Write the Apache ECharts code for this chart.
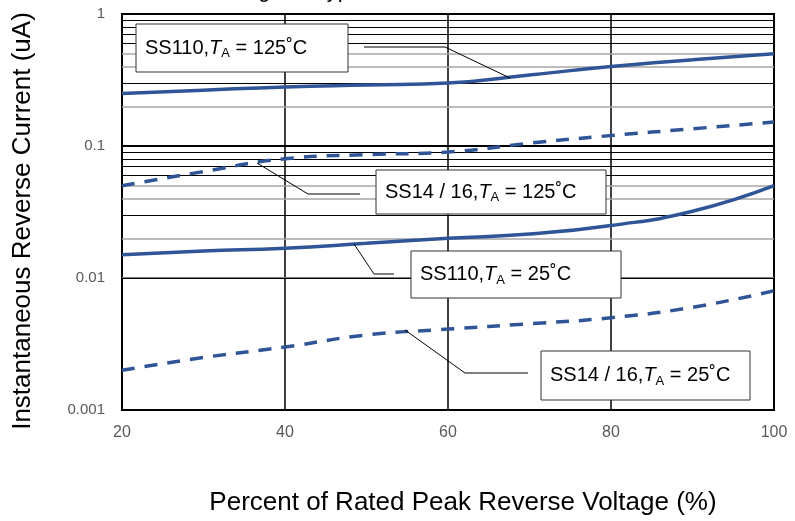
<!DOCTYPE html>
<html>
<head>
<meta charset="utf-8">
<script src="https://cdn.jsdelivr.net/npm/echarts@6/dist/echarts.min.js"></script>
<style>html,body{margin:0;padding:0;background:#fff}#c{width:795px;height:521px}</style>
</head>
<body>
<div id="c"></div>
<script>
const xValues = [20, 30, 40, 50, 60, 70, 80, 90, 100];
const ss110_125 = [0.25, 0.265, 0.28, 0.29, 0.30, 0.345, 0.40, 0.45, 0.50];
const ss14_125 = [0.05, 0.064, 0.08, 0.086, 0.09, 0.105, 0.12, 0.135, 0.152];
const ss110_25 = [0.015, 0.016, 0.0168, 0.0183, 0.02, 0.0215, 0.025, 0.032, 0.05];
const ss14_25 = [0.002, 0.0025, 0.003, 0.0037, 0.0041, 0.0045, 0.005, 0.006, 0.008];
const xTicks = [20, 40, 60, 80, 100];
const yTicks = [0.001, 0.01, 0.1, 1];
const minorMantissas = [2, 3, 4, 5, 6, 7, 8, 9];
const grayMantissas = [2, 4, 5];

const FONT = 'Liberation Sans, Arial, sans-serif';
const BLUE = '#2F5597';

function pairs(ys) { return xValues.map((x, i) => [x, ys[i]]); }

const minorLines = [];
[0.001, 0.01, 0.1].forEach(d => {
  minorMantissas.forEach(m => {
    const gray = grayMantissas.indexOf(m) >= 0;
    minorLines.push({
      yAxis: +(d * m).toPrecision(3),
      lineStyle: { color: gray ? '#a6a6a6' : '#000', width: gray ? 1.6 : 1, type: 'solid' }
    });
  });
});

const rich = {
  n: { fontSize: 20, fontFamily: FONT, color: '#000', lineHeight: 24 },
  i: { fontSize: 20, fontFamily: FONT, color: '#000', fontStyle: 'italic', lineHeight: 24 },
  s: { fontSize: 13, fontFamily: FONT, color: '#000', verticalAlign: 'bottom', lineHeight: 13 }
};

function box(x, y, w, h, label) {
  return [
    { type: 'rect', z: 200, shape: { x: x, y: y, width: w, height: h }, style: { fill: '#fff', stroke: '#333', lineWidth: 1 } },
    { type: 'text', z: 201, x: x + 9, y: y + h / 2, style: { text: label, rich: rich, verticalAlign: 'middle', align: 'left' } }
  ];
}
function leader(points) {
  return { type: 'polyline', z: 150, shape: { points: points }, style: { stroke: '#000', lineWidth: 1, fill: null } };
}

const chart = echarts.init(document.getElementById('c'), null, { renderer: 'canvas' });
chart.setOption({
  backgroundColor: '#fff',
  animation: false,
  grid: { left: 122, right: 21, top: 14, bottom: 111, show: true, borderColor: '#000', borderWidth: 2, backgroundColor: 'transparent' },
  xAxis: {
    type: 'value', min: 20, max: 100, interval: 20,
    axisLine: { show: false }, axisTick: { show: false },
    splitLine: { show: true, lineStyle: { color: '#000', width: 1.5 } },
    axisLabel: { color: '#595959', fontSize: 16, fontFamily: FONT, margin: 15,
      formatter: v => String(xTicks.find(t => t === v) ?? v) },
    name: 'Percent of Rated Peak Reverse Voltage (%)',
    nameLocation: 'middle', nameGap: 80,
    nameTextStyle: { color: '#000', fontSize: 26, fontFamily: FONT, padding: [0, 0, 0, 30] }
  },
  yAxis: {
    type: 'log', logBase: 10, min: 0.001, max: 1,
    axisLine: { show: false }, axisTick: { show: false },
    splitLine: { show: true, lineStyle: { color: '#000', width: 2 } },
    axisLabel: { color: '#595959', fontSize: 15, fontFamily: FONT, margin: 17,
      formatter: v => { const t = yTicks.find(k => Math.abs(k - v) / k < 1e-6); return t !== undefined ? String(t) : ''; } },
    name: 'Instantaneous Reverse Current (uA)',
    nameLocation: 'middle', nameGap: 86,
    nameTextStyle: { color: '#000', fontSize: 26, fontFamily: FONT, padding: [0, 18, 0, 0] }
  },
  series: [
    { type: 'line', data: [], silent: true, z: 1,
      markLine: { silent: true, symbol: 'none', label: { show: false }, animation: false, data: minorLines } },
    { name: 'SS110 125', type: 'line', data: pairs(ss110_125), smooth: true, symbol: 'none', z: 5,
      lineStyle: { color: BLUE, width: 3.5 } },
    { name: 'SS14/16 125', type: 'line', data: pairs(ss14_125), smooth: true, symbol: 'none', z: 5,
      lineStyle: { color: BLUE, width: 3.5, type: [13, 10] } },
    { name: 'SS110 25', type: 'line', data: pairs(ss110_25), smooth: true, symbol: 'none', z: 5,
      lineStyle: { color: BLUE, width: 3.5 } },
    { name: 'SS14/16 25', type: 'line', data: pairs(ss14_25), smooth: true, symbol: 'none', z: 5,
      lineStyle: { color: BLUE, width: 3.5, type: [13, 10] } }
  ],
  graphic: [
    { type: 'text', left: 240, top: -20, z: 100, style: { text: 'Fig. 4 - Typical Reverse Characteristics', fontSize: 22, fontFamily: FONT, fill: '#000' } },
    leader([[364, 47], [445, 47], [510, 78]]),
    leader([[360, 194], [308, 194], [257, 163]]),
    leader([[394, 274], [374, 274], [354, 244]]),
    leader([[528, 373], [465, 373], [405, 330]]),
    ...box(136, 24, 212, 48, '{n|SS110,}{i|T}{s|A}{n| = 125˚C}'),
    ...box(376, 170, 230, 44, '{n|SS14 / 16,}{i|T}{s|A}{n| = 125˚C}'),
    ...box(411, 251, 210, 47, '{n|SS110,}{i|T}{s|A}{n| = 25˚C}'),
    ...box(541, 351, 209, 49, '{n|SS14 / 16,}{i|T}{s|A}{n| = 25˚C}')
  ]
});
</script>
</body>
</html>
